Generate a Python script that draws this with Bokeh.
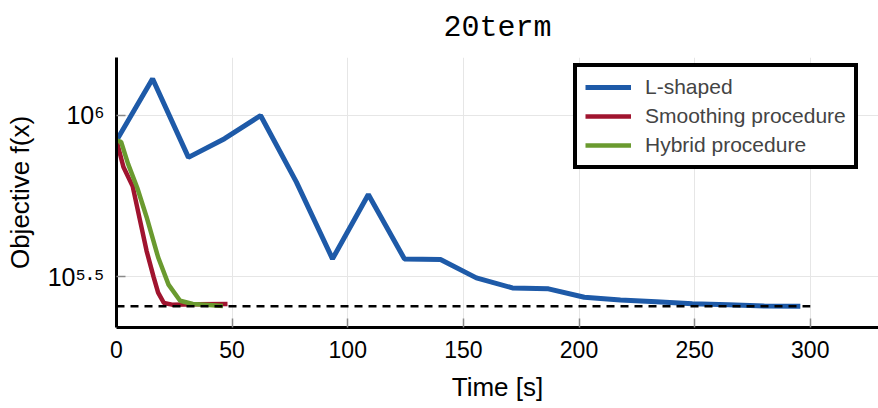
from bokeh.plotting import figure
from bokeh.models import (Range1d, FixedTicker, Legend, LegendItem,
                          CustomJSTickFormatter)
from bokeh.embed import file_html
from bokeh.resources import INLINE

# ---------------- data ----------------
title_text = "20term"
x_label = "Time [s]"
y_label = "Objective f(x)"
series_names = ["L-shaped", "Smoothing procedure", "Hybrid procedure"]

lshaped_time = [0, 15.6, 31.1, 46.7, 62.3, 77.8, 93.4, 108.9, 124.5, 140.1,
                155.6, 171.2, 186.8, 202.3, 217.9, 233.4, 249.0, 264.6, 280.1, 295.7]
lshaped_obj = [836400, 1300200, 741300, 847200, 1000000, 620900, 358900, 568900,
               358900, 357300, 313300, 291700, 289700, 272900, 267300, 264200,
               260600, 258800, 256200, 255800]

smoothing_time = [0, 3, 7, 10, 13, 16, 18, 20.5, 24, 35, 48]
smoothing_obj = [836400, 691800, 602600, 478600, 380200, 316200, 281800,
                 261800, 258800, 259400, 260000]

hybrid_time = [0, 2, 5, 9, 13, 18, 22.5, 27.5, 33, 40, 46]
hybrid_obj = [836400, 827900, 707900, 595700, 484200, 363100, 298500,
              266100, 260000, 258200, 256400]

optimum_time = [0, 300]
optimum_obj = [255800, 255800]

x_ticks = [0, 50, 100, 150, 200, 250, 300]
y_tick_values = [10 ** 5.5, 10 ** 6]
y_tick_labels = ["10\u2075\u00b7\u2075", "10\u2076"]

# ---------------- styles ----------------
colors = ["#1e5aa8", "#a0142f", "#6a9a2f"]
FONT = "Liberation Sans"

p = figure(width=878, height=408, y_axis_type="log",
           x_range=Range1d(0, 329.5), y_range=Range1d(10 ** 5.342, 10 ** 6.18),
           output_backend="svg", toolbar_location=None,
           min_border_left=116, min_border_right=0, min_border_top=57,
           min_border_bottom=81)
p.outline_line_color = None
p.background_fill_color = "white"

p.title.text = title_text
p.title.text_font = "Liberation Mono"
p.title.text_font_size = "30px"
p.title.text_font_style = "normal"
p.title.text_color = "black"
p.title.align = "center"
p.title.vertical_align = "top"
p.title.text_line_height = 0.8
p.title.standoff = 21

r_l = p.line(lshaped_time, lshaped_obj, line_color=colors[0], line_width=5)
r_s = p.line(smoothing_time, smoothing_obj, line_color=colors[1], line_width=4.5)
r_h = p.line(hybrid_time, hybrid_obj, line_color=colors[2], line_width=4.5)
p.line(optimum_time, optimum_obj, line_color="black", line_width=2.5, line_dash="8 6")

# axes
xa = p.xaxis[0]
xa.ticker = FixedTicker(ticks=x_ticks)
xa.axis_label = x_label
ya = p.yaxis[0]
ya.ticker = FixedTicker(ticks=y_tick_values)
ya.formatter = CustomJSTickFormatter(
    args=dict(vals=y_tick_values, labs=y_tick_labels),
    code="""
    for (let i = 0; i < vals.length; i++) {
        if (Math.abs(vals[i] - tick) / vals[i] < 1e-6) { return labs[i]; }
    }
    return '';
    """)
ya.axis_label = y_label
for ax in (xa, ya):
    ax.axis_line_width = 3
    ax.axis_line_color = "black"
    ax.major_tick_in = 9
    ax.major_tick_out = 0
    ax.major_tick_line_color = "#8a8a8a"
    ax.major_tick_line_width = 1.5
    ax.minor_tick_line_color = None
    ax.major_label_text_font = FONT
    ax.major_label_text_font_size = "23px"
    ax.major_label_text_color = "black"
    ax.axis_label_text_font = FONT
    ax.axis_label_text_font_size = "26px"
    ax.axis_label_text_font_style = "normal"
    ax.axis_label_text_color = "black"
xa.major_label_standoff = 13
xa.axis_label_standoff = 11
ya.major_label_text_font_size = "25px"
ya.major_label_standoff = 12
ya.axis_label_standoff = 10

p.xgrid.ticker = FixedTicker(ticks=x_ticks)
p.ygrid.ticker = FixedTicker(ticks=y_tick_values)
p.xgrid.grid_line_color = "#e6e6e6"
p.ygrid.grid_line_color = "#e6e6e6"
p.xgrid.grid_line_width = 1
p.ygrid.grid_line_width = 1

legend = Legend(items=[LegendItem(label=series_names[0], renderers=[r_l]),
                       LegendItem(label=series_names[1], renderers=[r_s]),
                       LegendItem(label=series_names[2], renderers=[r_h])],
                location=(457, 158), margin=0, padding=8, spacing=5,
                glyph_width=46, glyph_height=24, label_height=24, label_standoff=14,
                label_text_font=FONT, label_text_font_size="21px",
                border_line_color="black", border_line_width=4, border_line_alpha=1,
                background_fill_color="white", background_fill_alpha=1)
p.add_layout(legend)

open("out.html", "w").write(file_html(p, INLINE))
